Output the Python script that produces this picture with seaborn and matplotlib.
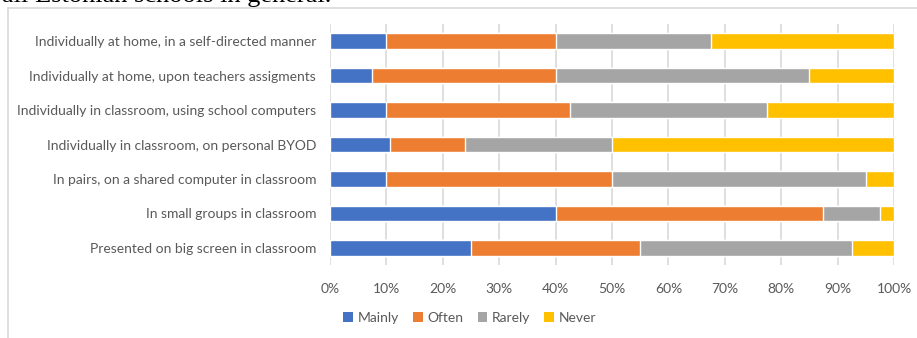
import matplotlib
matplotlib.use("Agg")
import matplotlib.pyplot as plt
import seaborn as sns
import pandas as pd
import numpy as np
from matplotlib.lines import Line2D
from matplotlib.patches import Patch

categories = [
    "Individually at home, in a self-directed manner",
    "Individually at home, upon teachers assigments",
    "Individually in classroom, using school computers",
    "Individually in classroom, on personal BYOD",
    "In pairs, on a shared computer in classroom",
    "In small groups in classroom",
    "Presented on big screen in classroom",
]
series_names = ["Mainly", "Often", "Rarely", "Never"]
mainly = [10.0, 7.5, 10.0, 10.7, 10.0, 40.0, 25.0]
often = [30.0, 32.5, 32.5, 13.2, 40.0, 47.5, 30.0]
rarely = [27.5, 45.0, 35.0, 26.1, 45.0, 10.0, 37.5]
never = [32.5, 15.0, 22.5, 50.0, 5.0, 2.5, 7.5]
tick_labels = ["0%", "10%", "20%", "30%", "40%", "50%", "60%", "70%", "80%", "90%", "100%"]

colors = ["#4472C4", "#ED7D31", "#A5A5A5", "#FFC000"]
text_gray = "#595959"

sns.set_theme(style="white")
plt.rcParams["font.family"] = ["Lato", "DejaVu Sans"]

W, H = 917, 338
fig = plt.figure(figsize=(W / 100, H / 100), dpi=100)
ax = fig.add_axes([330 / W, 1 - 265 / H, (894 - 330) / W, (265 - 24) / H])

df = pd.DataFrame({"category": categories, "Mainly": mainly, "Often": often,
                   "Rarely": rarely, "Never": never})
vals = df[series_names].to_numpy()
cum = np.cumsum(vals, axis=1)
cum = cum / cum[:, -1:] * 100

for i in range(len(series_names) - 1, -1, -1):
    d = pd.DataFrame({"category": categories, "value": cum[:, i]})
    sns.barplot(data=d, x="value", y="category", orient="h", color=colors[i],
                width=0.45, saturation=1, ax=ax, zorder=3)

ax.set_xlim(0, 100)
ax.set_xticks(np.arange(0, 101, 10))
ax.set_xticklabels(tick_labels)
ax.xaxis.grid(True, color="#d9d9d9", linewidth=1.2, zorder=0)
ax.set_axisbelow(True)
for s in ax.spines.values():
    s.set_visible(False)
ax.set_xlabel("")
ax.set_ylabel("")
ax.tick_params(axis="y", length=0, pad=10, labelsize=10, labelcolor=text_gray)
ax.tick_params(axis="x", length=0, pad=13, labelsize=10, labelcolor=text_gray)

handles = [Patch(facecolor=c, edgecolor="none") for c in colors]
leg = fig.legend(handles, series_names, loc="center", bbox_to_anchor=(470 / W, 1 - 318 / H),
                 ncol=4, frameon=False, handlelength=0.7, handleheight=0.7,
                 handletextpad=0.35, columnspacing=1.0, fontsize=10)
for t in leg.get_texts():
    t.set_color(text_gray)

# outer frame (partially visible)
fig.add_artist(Line2D([8 / W, 8 / W], [0, 1 - 8 / H], transform=fig.transFigure,
                      color="#d9d9d9", linewidth=1.2))
fig.add_artist(Line2D([8 / W, 1.0], [1 - 8 / H, 1 - 8 / H], transform=fig.transFigure,
                      color="#d9d9d9", linewidth=1.2))

# cut-off heading text from the page
fig.text(2 / W, 1 - 2 / H, "all Estonian schools in general.", fontfamily="Liberation Serif",
         fontsize=19, color="black", va="baseline", ha="left")

fig.savefig("out.png", dpi=100)
